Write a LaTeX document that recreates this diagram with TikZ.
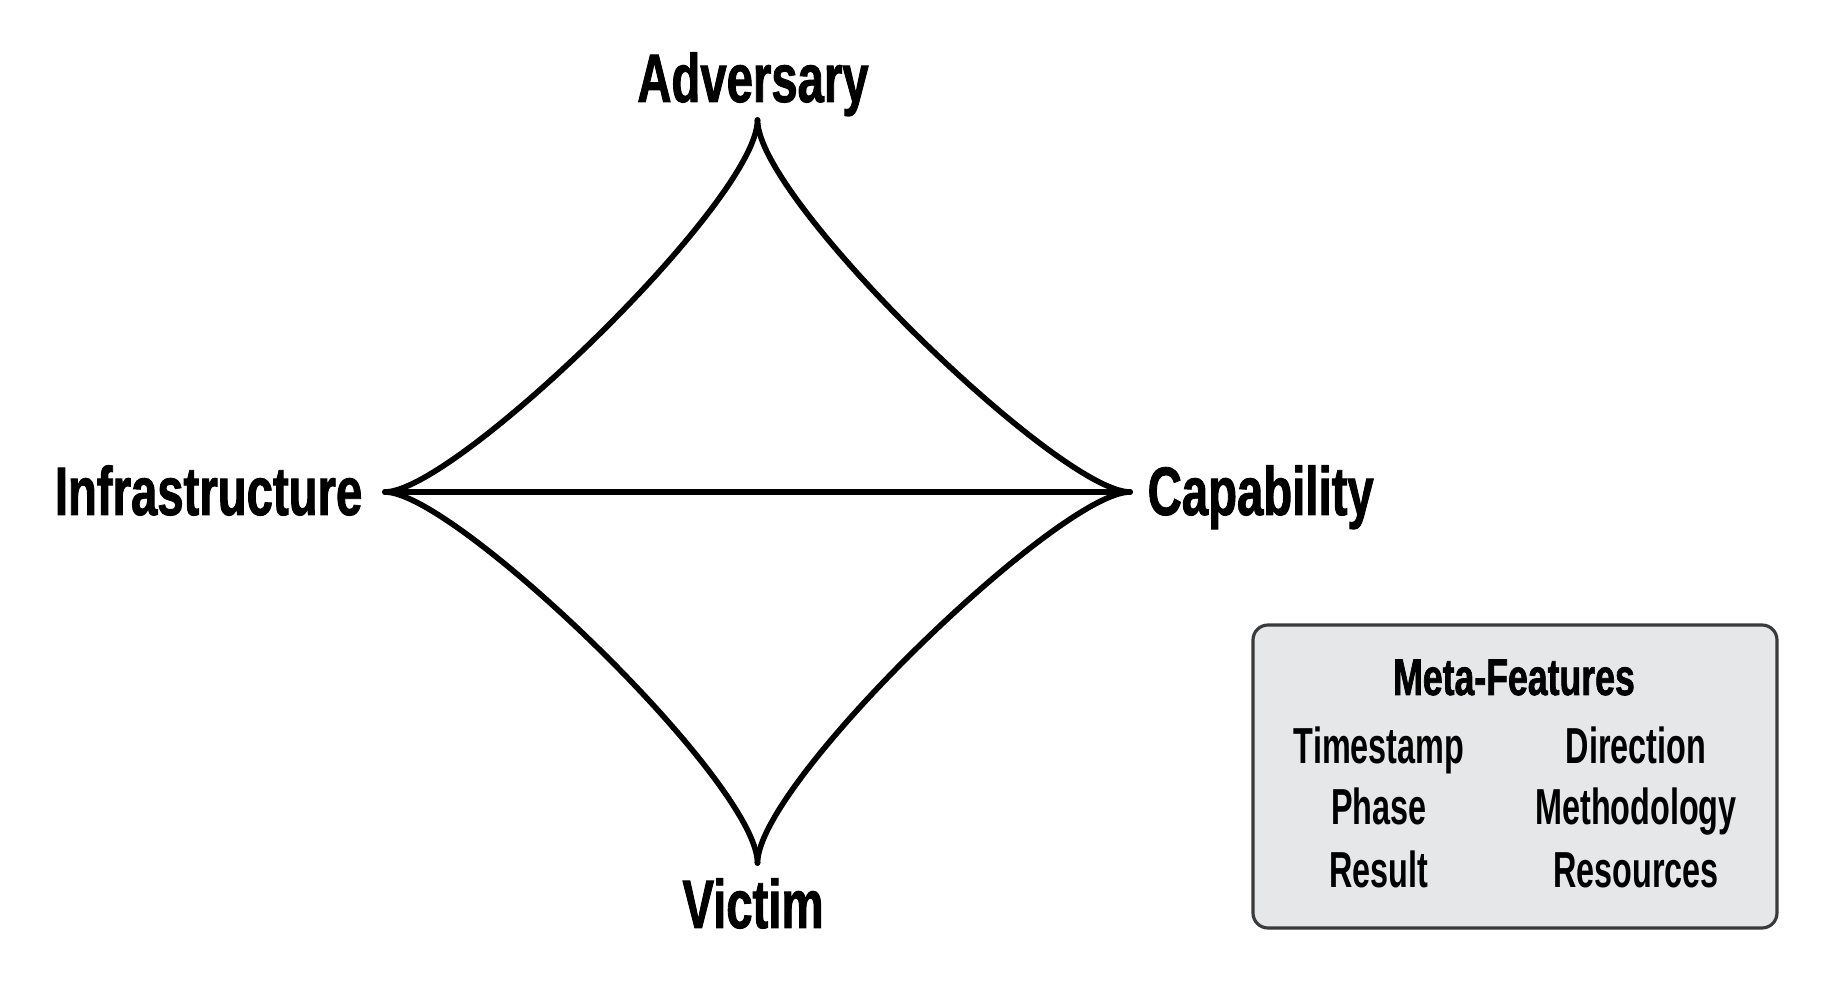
\documentclass[tikz,border=0pt]{standalone}
\usepackage{fontspec}
\newfontfamily\condfont[FakeStretch=0.69,BoldFeatures={FakeBold=1.3}]{Liberation Sans}
\newfontfamily\itemfont[FakeStretch=0.64]{Liberation Sans}
\definecolor{boxfill}{HTML}{E6E7E9}
\definecolor{boxline}{HTML}{3A3A3A}
\begin{document}
\begin{tikzpicture}[
        vertexlabel/.style={inner sep=0pt, font=\condfont\bfseries\fontsize{19.5}{22}\selectfont},
        edge/.style={line width=1.6pt, line cap=round, line join=round},
        featureitem/.style={inner sep=0pt, anchor=base, font=\itemfont\bfseries\fontsize{14.4}{17}\selectfont}
    ]
        \useasboundingbox (0,0) rectangle (18.26,-9.82);

        % corners of the diamond
        \coordinate (adv) at (7.575,-1.20);
        \coordinate (inf) at (3.85,-4.92);
        \coordinate (cap) at (11.30,-4.92);
        \coordinate (vic) at (7.575,-8.63);

        \node [vertexlabel, anchor=base] (advlabel) at (7.53,-1.02) {Adversary};
        \node [vertexlabel, anchor=base east] (inflabel) at (3.63,-5.15) {Infrastructure};
        \node [vertexlabel, anchor=base west] (caplabel) at (11.47,-5.15) {Capability};
        \node [vertexlabel, anchor=base] (viclabel) at (7.53,-9.28) {Victim};

        \draw[edge] (adv) .. controls +(0,-0.8) and +(0.7,0) .. (inf);
        \draw[edge] (adv) .. controls +(0,-0.8) and +(-0.7,0) .. (cap);
        \draw[edge] (vic) .. controls +(0,0.8) and +(0.7,0) .. (inf);
        \draw[edge] (vic) .. controls +(0,0.8) and +(-0.7,0) .. (cap);
        \draw[edge] (inf) -- (cap);

        % meta-features box
        \node [draw=boxline, fill=boxfill, line width=0.9pt, rounded corners=0.15cm,
               minimum width=5.24cm, minimum height=3.03cm, inner sep=0pt] (meta) at (15.15,-7.765) {};
        \node [inner sep=0pt, anchor=base, font=\condfont\bfseries\fontsize{14.7}{17}\selectfont] (metatitle) at (15.14,-6.95) {Meta-Features};
        \node [featureitem] (timestamp) at (13.79,-7.64) {Timestamp};
        \node [featureitem] (phase) at (13.79,-8.25) {Phase};
        \node [featureitem] (result) at (13.79,-8.88) {Result};
        \node [featureitem] (direction) at (16.36,-7.64) {Direction};
        \node [featureitem] (method) at (16.36,-8.25) {Methodology};
        \node [featureitem] (resources) at (16.36,-8.88) {Resources};
    \end{tikzpicture}
\end{document}
